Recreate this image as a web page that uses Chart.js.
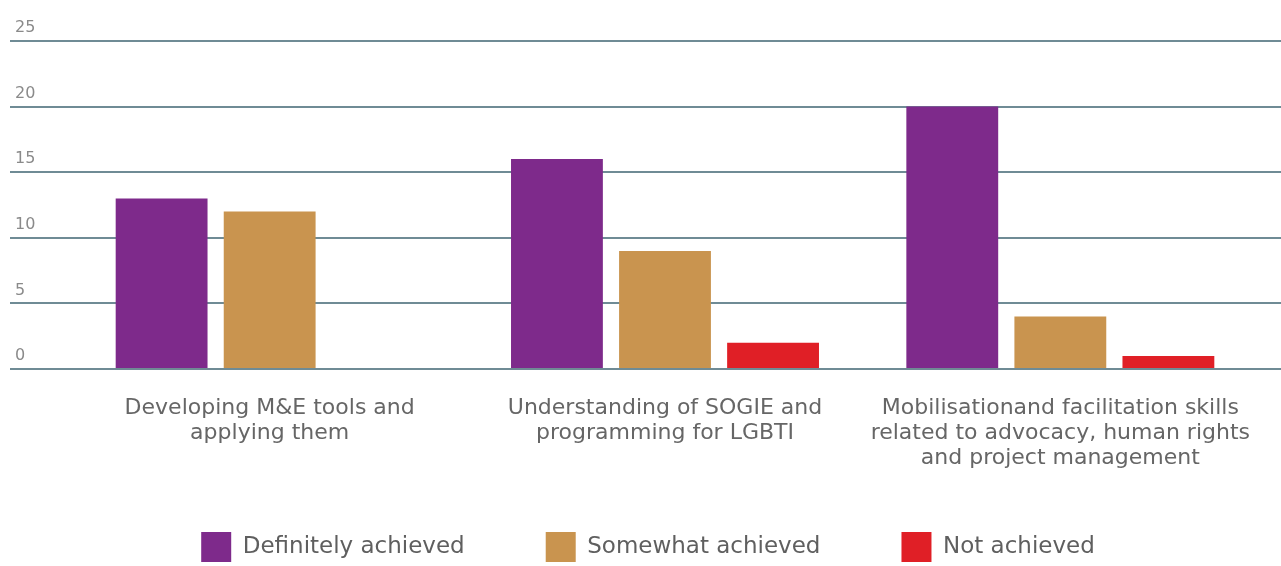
<!DOCTYPE html>
<html lang="en">
<head>
  <meta charset="UTF-8">
  <title>Capacity building outcomes</title>
  <script src="https://cdn.jsdelivr.net/npm/chart.js"></script>
  <style>
    html, body { margin: 0; padding: 0; background: #fff; }
    #chart { display: block; }
  </style>
</head>
<body>
  <canvas id="chart" width="1281" height="566"></canvas>
  <script>
    const areas = [
      ['Developing M&E tools and', 'applying them'],
      ['Understanding of SOGIE and', 'programming for LGBTI'],
      ['Mobilisationand facilitation skills', 'related to advocacy, human rights', 'and project management']
    ];
    const definitely = [13, 16, 20];
    const somewhat = [12, 9, 4];
    const notAchieved = [0, 2, 1];
    const yTicks = [0, 5, 10, 15, 20, 25];

    const gridColor = '#6f8b95';
    const font = 'DejaVu Sans';

    const ctx = document.getElementById('chart').getContext('2d');
    new Chart(ctx, {
      type: 'bar',
      data: {
        labels: areas,
        datasets: [
          { label: 'Definitely achieved', data: definitely, backgroundColor: '#7e2a8b' },
          { label: 'Somewhat achieved', data: somewhat, backgroundColor: '#c9944f' },
          { label: 'Not achieved', data: notAchieved, backgroundColor: '#e01f26' }
        ]
      },
      options: {
        responsive: false,
        animation: false,
        // legend row sits right at the bottom edge
        layout: { padding: { top: 41, left: 15, right: 0, bottom: -6 } },
        datasets: { bar: { barPercentage: 0.85, categoryPercentage: 0.82 } },
        scales: {
          x: {
            grid: { display: false },
            border: { display: false },
            ticks: {
              autoSkip: false,
              maxRotation: 0,
              padding: 19,
              color: '#666',
              font: { family: font, size: 22, lineHeight: '25px' }
            },
            // tall enough for the three-line label
            afterFit: (axis) => { axis.height = 105; }
          },
          y: {
            min: 0,
            max: 25,
            afterBuildTicks: (axis) => { axis.ticks = yTicks.map(v => ({ value: v })); },
            grid: { color: gridColor, lineWidth: 2, tickLength: 62 },
            border: { display: false },
            ticks: {
              crossAlign: 'far',
              labelOffset: -13,
              color: '#8a8a8a',
              font: { family: font, size: 16 }
            },
            afterFit: (axis) => { axis.width = 57; }
          },
          yRight: {
            position: 'right',
            min: 0,
            max: 25,
            afterBuildTicks: (axis) => { axis.ticks = yTicks.map(v => ({ value: v })); },
            grid: { color: gridColor, lineWidth: 2, tickLength: 23, drawOnChartArea: false },
            border: { display: false },
            ticks: { display: false },
            afterFit: (axis) => { axis.width = 23; }
          }
        },
        plugins: {
          tooltip: { enabled: false },
          legend: {
            position: 'bottom',
            // empty title with negative padding pulls the row up so the
            // wide item spacing doesn't push the axis labels out
            title: { display: true, text: '', font: { size: 10, lineHeight: 1 }, padding: { top: -33, bottom: 0 } },
            labels: {
              boxWidth: 30,
              boxHeight: 30,
              padding: 81,
              color: '#5f5f5f',
              font: { family: font, size: 23 }
            }
          }
        }
      }
    });
  </script>
</body>
</html>
